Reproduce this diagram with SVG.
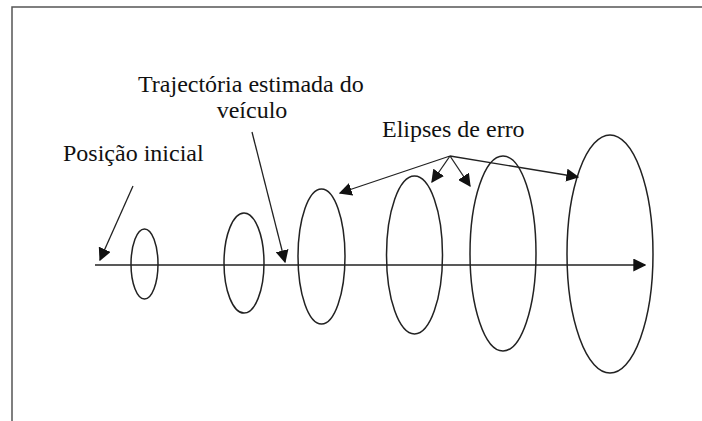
<svg xmlns="http://www.w3.org/2000/svg" width="702" height="421" viewBox="0 0 702 421">
<style>
text{font-family:"Liberation Serif","Times New Roman",serif;font-size:24px;fill:#111}
.ell{fill:none;stroke:#222;stroke-width:1.5}
.ln{fill:none;stroke:#222;stroke-width:1.3}
</style>
<defs>
<marker id="ah" viewBox="0 0 10 10" refX="9" refY="5" markerWidth="13" markerHeight="13" markerUnits="userSpaceOnUse" orient="auto">
<path d="M0,0 L10,5 L0,10 z" fill="#111"/>
</marker>
</defs>
<rect width="702" height="421" fill="#fff"/>
<g id="frame"><path d="M12,421 L12,7 L702,7" fill="none" stroke="#555" stroke-width="1.5"/></g>
<g id="ellipses">
<ellipse id="e1" class="ell" cx="144.5" cy="264" rx="13.5" ry="35"/>
<ellipse id="e2" class="ell" cx="244" cy="263" rx="20" ry="50"/>
<ellipse id="e3" class="ell" cx="321.5" cy="256.5" rx="23.5" ry="67.5"/>
<ellipse id="e4" class="ell" cx="414.5" cy="255" rx="28" ry="79"/>
<ellipse id="e5" class="ell" cx="503" cy="253.5" rx="33" ry="97.5"/>
<ellipse id="e6" class="ell" cx="610" cy="254" rx="43" ry="119"/>
</g>
<g id="labels">
<text x="138" y="92">Trajectória estimada do</text>
<text x="252" y="118" text-anchor="middle">veículo</text>
<text x="63" y="161">Posição inicial</text>
<text x="382" y="137">Elipses de erro</text>
</g>
<g id="connectors">
<line class="ln" x1="95" y1="265" x2="645" y2="265" marker-end="url(#ah)"/>
<line class="ln" x1="133" y1="186" x2="100" y2="260" marker-end="url(#ah)"/>
<line class="ln" x1="252" y1="132" x2="285" y2="262" marker-end="url(#ah)"/>
<line class="ln" x1="450" y1="156" x2="340" y2="193" marker-end="url(#ah)"/>
<line class="ln" x1="450" y1="156" x2="432" y2="182" marker-end="url(#ah)"/>
<line class="ln" x1="450" y1="156" x2="470" y2="186" marker-end="url(#ah)"/>
<line class="ln" x1="450" y1="156" x2="578" y2="177" marker-end="url(#ah)"/>
</g>
</svg>
